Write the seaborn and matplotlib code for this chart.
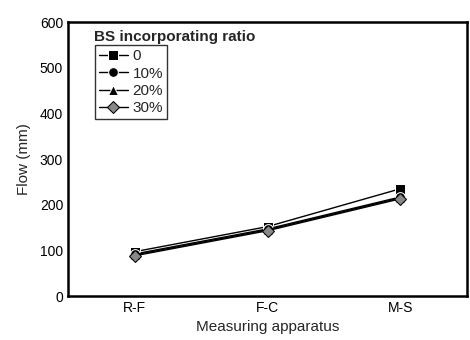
import matplotlib
matplotlib.use("Agg")
import matplotlib.pyplot as plt
import seaborn as sns
import pandas as pd

apparatus = ["R-F", "F-C", "M-S"]
ratios = ["0", "10%", "20%", "30%"]
flow_0 = [97, 152, 235]
flow_10 = [92, 147, 217]
flow_20 = [90, 145, 215]
flow_30 = [88, 143, 213]

rows = []
for r, vals in zip(ratios, [flow_0, flow_10, flow_20, flow_30]):
    for a, v in zip(apparatus, vals):
        rows.append({"Measuring apparatus": a, "Flow (mm)": v, "ratio": r})
df = pd.DataFrame(rows)

sns.set_style("white")
plt.rcParams["font.family"] = ["Liberation Sans", "DejaVu Sans"]

fig = plt.figure(figsize=(4.7, 3.4), dpi=100)
ax = fig.add_axes([0.1447, 0.1294, 0.8489, 0.8056])

markers = {"0": "s", "10%": "o", "20%": "^", "30%": "D"}
palette = {r: "black" for r in ratios}
sns.lineplot(data=df, x="Measuring apparatus", y="Flow (mm)", hue="ratio",
             style="ratio", markers=markers, dashes=False, palette=palette,
             linewidth=1.0, markersize=7, ax=ax, sort=False)

for line in ax.lines:
    if line.get_marker() == "D":
        line.set_markerfacecolor("#888888")
        line.set_markeredgecolor("black")
        line.set_markersize(6)

ax.set_xlim(-0.5, 2.5)
ax.set_ylim(0, 600)
ax.set_yticks([0, 100, 200, 300, 400, 500, 600])
for s in ax.spines.values():
    s.set_visible(True)
    s.set_linewidth(1.8)
    s.set_color("black")
ax.tick_params(direction="in", length=4, width=1.5, colors="black", labelsize=10)
ax.set_xlabel("Measuring apparatus", fontsize=11, labelpad=4)
ax.set_ylabel("Flow (mm)", fontsize=11, labelpad=6)

handles, labels = ax.get_legend_handles_labels()
ax.legend(handles, labels, loc="upper left", bbox_to_anchor=(0.068, 0.915),
          frameon=True, fancybox=False, edgecolor="black", fontsize=11,
          handlelength=1.9, handletextpad=0.3, borderpad=0.25, labelspacing=0.22,
          borderaxespad=0)
ax.get_legend().get_frame().set_linewidth(1.0)
ax.text(0.066, 0.972, "BS incorporating ratio", transform=ax.transAxes,
        fontsize=11, fontweight="bold", va="top", ha="left")

fig.savefig("out.png", dpi=100)
